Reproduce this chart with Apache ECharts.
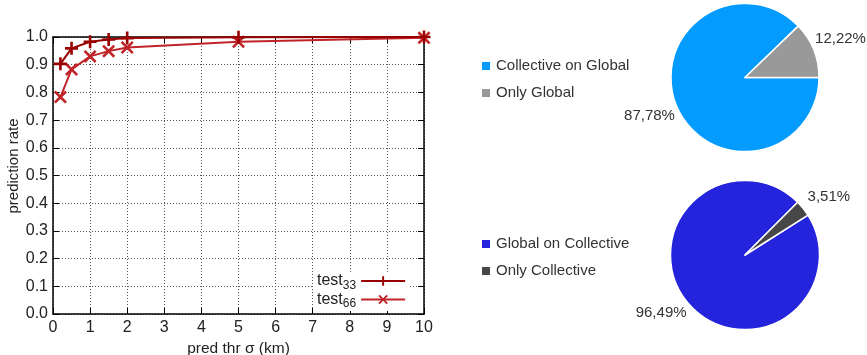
<!DOCTYPE html>
<html>
<head>
<meta charset="utf-8">
<script src="https://cdn.jsdelivr.net/npm/echarts@6/dist/echarts.min.js"></script>
<style>
html,body{margin:0;padding:0;background:#fff;}
#c{width:867px;height:355px;}
</style>
</head>
<body>
<div id="c"></div>
<script>
// ---- data ----
const sigmaX = [0.2, 0.5, 1, 1.5, 2, 5, 10];
const test33 = [0.903, 0.959, 0.983, 0.991, 0.996, 0.999, 1.0];
const test66 = [0.783, 0.883, 0.930, 0.949, 0.962, 0.983, 0.997];
const xTicks = [0,1,2,3,4,5,6,7,8,9,10];
const yTicks = [0,0.1,0.2,0.3,0.4,0.5,0.6,0.7,0.8,0.9,1.0];
const pie1Names = ['Collective on Global', 'Only Global'];
const pie1Values = [87.78, 12.22];
const pie2Names = ['Global on Collective', 'Only Collective'];
const pie2Values = [96.49, 3.51];

const FONT = 'Liberation Sans, Arial, sans-serif';
const C33 = '#990000', C66 = '#c02428';
const plusPath = 'path://M4,0H6V4H10V6H6V10H4V6H0V4H4Z';
const xPath = 'path://M0,1.4L1.4,0L5,3.6L8.6,0L10,1.4L6.4,5L10,8.6L8.6,10L5,6.4L1.4,10L0,8.6L3.6,5Z';

function pairs(xs, ys){ return xs.map((x,i)=>[x, ys[i]]); }
function pieData(names, vals, colors){ return names.map((n,i)=>({name:n, value:vals[i], itemStyle:{color:colors[i]}})); }
function fmtPct(p){ return p.value.toFixed(2).replace('.', ',') + '%'; }

const chart = echarts.init(document.getElementById('c'), null, {renderer:'canvas'});
const gridCfg = {left:53, top:37, width:371, height:277, containLabel:false, outerBoundsMode:'none'};
const frameLine = {show:true, onZero:false, lineStyle:{color:'#000', width:1.5}};

const option = {
  animation:false,
  textStyle:{fontFamily:FONT},
  grid:[gridCfg],
  xAxis:[
    {type:'value', min:xTicks[0], max:xTicks[xTicks.length-1], interval:1, position:'bottom',
     name:'pred thr σ (km)', nameLocation:'middle', nameGap:16,
     nameTextStyle:{fontSize:15.5, color:'#222', fontFamily:FONT},
     axisLine:frameLine, axisTick:{show:true, inside:true, length:6, lineStyle:{color:'#000', width:1}},
     axisLabel:{fontSize:16, color:'#222', margin:6, fontFamily:FONT},
     splitLine:{show:true, lineStyle:{color:'#555', type:[1,2], width:1}}},
    {type:'value', min:0, max:10, interval:1, position:'top',
     axisLine:frameLine, axisTick:{show:true, inside:true, length:6, lineStyle:{color:'#000'}},
     axisLabel:{show:false}, splitLine:{show:false}}
  ],
  yAxis:[
    {type:'value', min:yTicks[0], max:yTicks[yTicks.length-1], interval:0.1, position:'left',
     name:'prediction rate', nameLocation:'middle', nameGap:24,
     nameTextStyle:{fontSize:15, color:'#222', fontFamily:FONT, padding:[0,0,0,19]},
     axisLine:frameLine, axisTick:{show:true, inside:true, length:6, lineStyle:{color:'#000'}},
     axisLabel:{fontSize:16, color:'#222', margin:5, fontFamily:FONT, formatter:v=>v.toFixed(1)},
     splitLine:{show:true, lineStyle:{color:'#555', type:[1,2], width:1}}},
    {type:'value', min:0, max:1, interval:0.1, position:'right',
     axisLine:frameLine, axisTick:{show:true, inside:true, length:6, lineStyle:{color:'#000'}},
     axisLabel:{show:false}, splitLine:{show:false}}
  ],
  legend:[
    {data:['test33','test66'], orient:'vertical', left:313, top:272, align:'right',
     itemWidth:44, itemHeight:12, itemGap:0, backgroundColor:'#fff', padding:[1,4,1,4],
     formatter:n=>'{a|test}{s|'+n.slice(4)+'}',
     textStyle:{fontFamily:FONT, color:'#222', rich:{
       a:{fontSize:16, fontFamily:FONT, color:'#222'},
       s:{fontSize:12, fontFamily:FONT, color:'#222', padding:[9,0,0,0]}}}},
    {data:pie1Names, orient:'vertical', left:475, top:53, icon:'rect', itemWidth:10, itemHeight:10, itemGap:11,
     textStyle:{fontSize:15, color:'#333', fontFamily:FONT, lineHeight:16}},
    {data:pie2Names, orient:'vertical', left:475, top:231, icon:'rect', itemWidth:10, itemHeight:10, itemGap:11,
     textStyle:{fontSize:15, color:'#333', fontFamily:FONT, lineHeight:16}}
  ],
  series:[
    {type:'line', name:'test33', xAxisIndex:0, yAxisIndex:0, data:pairs(sigmaX, test33),
     symbol:plusPath, symbolSize:13, lineStyle:{color:C33, width:2}, itemStyle:{color:C33}, z:3},
    {type:'line', name:'test66', xAxisIndex:0, yAxisIndex:0, data:pairs(sigmaX, test66),
     symbol:xPath, symbolSize:13, lineStyle:{color:C66, width:2}, itemStyle:{color:C66}, z:2},
    {type:'pie', center:[745,77.5], radius:[0,74], startAngle:44, clockwise:false,
     data:pieData(pie1Names, pie1Values, ['#049bff','#999999']),
     itemStyle:{borderColor:'#fff', borderWidth:1.5}, label:{show:false}, labelLine:{show:false}, silent:true},
    {type:'pie', center:[745,77.5], radius:[0,200], startAngle:44, clockwise:false,
     data:pieData(pie1Names, pie1Values, ['rgba(0,0,0,0)','rgba(0,0,0,0)']),
     label:{show:true, position:'inside', color:'#333', fontSize:15, fontFamily:FONT, formatter:fmtPct},
     labelLine:{show:false}, silent:true, z:1},
    {type:'pie', center:[745,255], radius:[0,74.5], startAngle:45, clockwise:false,
     data:pieData(pie2Names, pie2Values, ['#2424dc','#474747']),
     itemStyle:{borderColor:'#fff', borderWidth:1.5}, label:{show:false}, labelLine:{show:false}, silent:true},
    {type:'pie', center:[745,255], radius:[0,198], startAngle:41, clockwise:false,
     data:pieData(pie2Names, pie2Values, ['rgba(0,0,0,0)','rgba(0,0,0,0)']),
     label:{show:true, position:'inside', color:'#333', fontSize:15, fontFamily:FONT, formatter:fmtPct},
     labelLine:{show:false}, silent:true, z:1}
  ]
};
chart.setOption(option);
</script>
</body>
</html>
